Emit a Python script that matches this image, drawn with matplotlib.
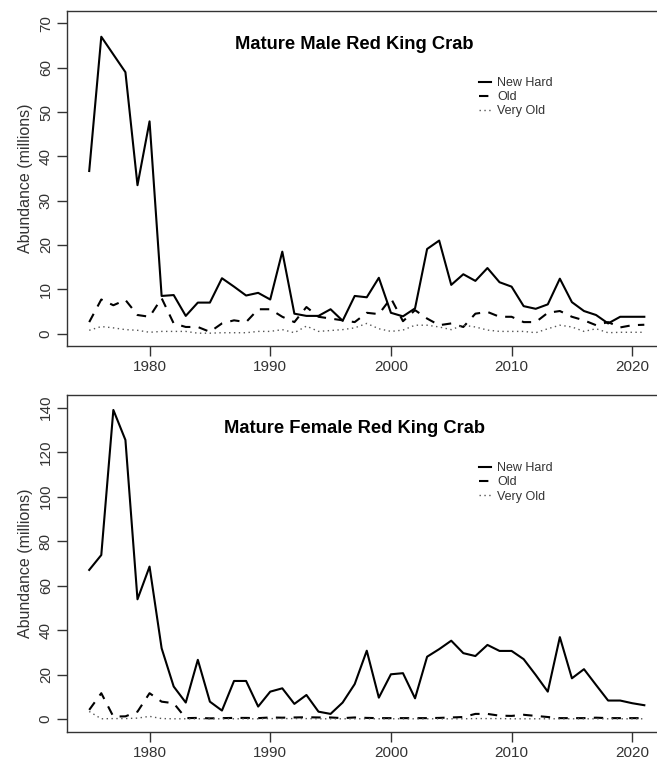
#!/usr/bin/env python3
# -*- coding: utf-8 -*-

"""
成熟アカガニ（Red King Crab）の殻齢別資源量グラフ
"""

import matplotlib
matplotlib.use('Agg')
import matplotlib.pyplot as plt

# 調査年
年 = list(range(1975, 2022))

# オス（百万尾）
オス_新殻 = [36.7, 67.0, 63.0, 59.0, 33.5, 47.9, 8.5, 8.7, 4.0, 7.0,
            7.0, 12.5, 10.6, 8.6, 9.2, 7.7, 18.5, 4.5, 4.0, 4.0,
            5.5, 2.9, 8.5, 8.2, 12.6, 4.7, 3.9, 5.7, 19.1, 21.0,
            11.0, 13.4, 11.9, 14.8, 11.6, 10.6, 6.2, 5.6, 6.6, 12.4,
            7.1, 5.1, 4.2, 2.3, 3.8, 3.8, 3.8]
オス_旧殻 = [2.6, 7.7, 6.4, 7.6, 4.2, 3.8, 8.0, 2.3, 1.5, 1.5,
            0.4, 2.3, 3.0, 2.6, 5.5, 5.5, 3.8, 2.6, 6.0, 3.8,
            3.4, 3.0, 2.6, 4.7, 4.4, 8.0, 2.8, 5.3, 3.4, 1.9,
            2.3, 1.5, 4.5, 4.9, 3.8, 3.8, 2.6, 2.6, 4.7, 5.1,
            3.8, 3.0, 1.9, 2.6, 1.4, 1.9, 2.0]
オス_超旧殻 = [0.75, 1.6, 1.3, 0.9, 0.75, 0.3, 0.5, 0.5, 0.5, 0.1,
             0.1, 0.2, 0.2, 0.2, 0.5, 0.5, 0.9, 0.2, 1.7, 0.5,
             0.7, 0.9, 1.3, 2.3, 1.1, 0.5, 0.8, 1.9, 1.9, 1.5,
             0.9, 1.9, 1.5, 0.8, 0.5, 0.5, 0.5, 0.2, 1.1, 1.9,
             1.5, 0.5, 1.1, 0.2, 0.3, 0.3, 0.3]

# メス（百万尾）
メス_新殻 = [67.1, 73.8, 139.0, 125.5, 53.9, 68.6, 31.9, 14.7, 7.5, 26.7,
            7.9, 3.9, 17.2, 17.2, 5.7, 12.4, 13.9, 6.9, 10.9, 3.4,
            2.4, 7.5, 15.8, 30.8, 9.7, 20.2, 20.7, 9.4, 28.1, 31.5,
            35.3, 29.7, 28.4, 33.4, 30.7, 30.7, 27.0, 19.9, 12.4, 36.9,
            18.4, 22.5, 15.4, 8.4, 8.4, 7.2, 6.3]
メス_旧殻 = [4.2, 11.7, 1.2, 1.3, 3.4, 11.7, 7.9, 7.2, 0.5, 0.6,
            0.4, 0.5, 0.6, 0.6, 0.5, 0.8, 0.7, 0.8, 0.9, 0.8,
            0.8, 0.5, 0.8, 0.6, 0.5, 0.5, 0.5, 0.5, 0.5, 0.6,
            0.8, 1.0, 2.4, 2.4, 1.6, 1.5, 2.0, 1.5, 1.0, 0.5,
            0.5, 0.5, 0.7, 0.5, 0.5, 0.5, 0.5]
メス_超旧殻 = [3.5, 0.2, 0.3, 0.3, 0.5, 1.3, 0.3, 0.2, 0.2, 0.2,
             0.2, 0.2, 0.2, 0.2, 0.2, 0.3, 0.3, 0.3, 0.3, 0.2,
             0.2, 0.2, 0.2, 0.2, 0.2, 0.2, 0.2, 0.2, 0.2, 0.2,
             0.2, 0.2, 0.3, 0.3, 0.3, 0.2, 0.2, 0.2, 0.2, 0.2,
             0.2, 0.2, 0.2, 0.2, 0.2, 0.2, 0.2]

x目盛 = [1980, 1990, 2000, 2010, 2020]
凡例ラベル = ['New Hard', 'Old', 'Very Old']

plt.rcParams['font.family'] = ['Liberation Sans', 'DejaVu Sans']
文字色 = '#333333'


def パネル描画(ax, 新殻, 旧殻, 超旧殻, タイトル, y目盛, y範囲, 凡例y):
    """1パネル分の折れ線・軸・凡例を描く"""
    ax.plot(年, 新殻, color='black', lw=1.5, label=凡例ラベル[0])
    ax.plot(年, 旧殻, color='black', lw=1.5, dashes=(4.5, 4), label=凡例ラベル[1])
    ax.plot(年, 超旧殻, color='#555555', lw=1.0, dashes=(1, 2.5), label=凡例ラベル[2])

    ax.set_xlim(1973.16, 2022.84)
    ax.set_ylim(*y範囲)
    ax.set_xticks(x目盛)
    ax.set_yticks(y目盛)
    ax.tick_params(length=7.2, width=1.0, color=文字色, labelcolor=文字色,
                   labelsize=11, pad=3)
    for t in ax.get_yticklabels():
        t.set_rotation(90)
        t.set_va('center')
    for s in ax.spines.values():
        s.set_color(文字色)
        s.set_linewidth(1.0)

    ax.set_ylabel('Abundance (millions)', fontsize=11.5, color=文字色)
    ax.yaxis.set_label_coords(-0.057, 0.5)

    ax.text(0.479, 0.9, タイトル, transform=ax.transAxes, ha='center',
            va='center', fontsize=13.2, fontweight='bold', color='black')

    凡例 = ax.legend(loc='upper left', bbox_to_anchor=(0.687, 凡例y),
                   frameon=False, handlelength=1.0, handletextpad=0.45,
                   labelspacing=0.17, borderpad=0, borderaxespad=0,
                   fontsize=9)
    for t in 凡例.get_texts():
        t.set_color(文字色)


fig = plt.figure(figsize=(6.57, 7.61), dpi=100)
ax上 = fig.add_axes([0.1020, 0.5453, 0.9125, 0.4402])
ax下 = fig.add_axes([0.1020, 0.0385, 0.9125, 0.4424])

パネル描画(ax上, オス_新殻, オス_旧殻, オス_超旧殻, 'Mature Male Red King Crab',
       list(range(0, 71, 10)), (-2.8, 72.8), 0.803)
パネル描画(ax下, メス_新殻, メス_旧殻, メス_超旧殻, 'Mature Female Red King Crab',
       list(range(0, 141, 20)), (-5.6, 145.7), 0.80)

fig.savefig('out.png', dpi=100)
